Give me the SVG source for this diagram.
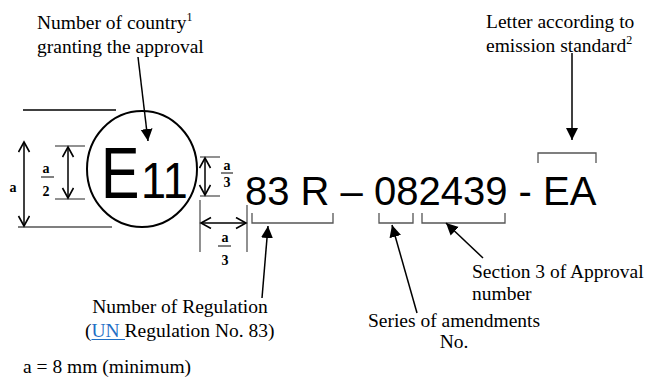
<svg xmlns="http://www.w3.org/2000/svg" width="646" height="379" viewBox="0 0 646 379">
<defs>
<style>
.t{font-family:"Liberation Serif","Times New Roman",serif;font-size:19.5px;fill:#000}
.lbl{font-family:"Liberation Serif","Times New Roman",serif;font-size:14px;font-weight:bold;fill:#000}
.big{font-family:"Liberation Sans",Arial,sans-serif;fill:#000}
.ext{stroke:#555;stroke-width:1.3;fill:none}
.dim{stroke:#000;stroke-width:1.5;fill:none;marker-start:url(#open);marker-end:url(#open)}
.ptr{stroke:#000;stroke-width:1.5;fill:none;marker-end:url(#solid)}
.frac{stroke:#000;stroke-width:1}
</style>
<marker id="open" markerUnits="userSpaceOnUse" markerWidth="14" markerHeight="14" refX="11" refY="6" orient="auto-start-reverse">
<path d="M1,0.5 L11,6 L1,11.5" fill="none" stroke="#000" stroke-width="1.6"/>
</marker>
<marker id="solid" markerUnits="userSpaceOnUse" markerWidth="14" markerHeight="14" refX="12" refY="6" orient="auto">
<path d="M0,0 L12,6 L0,12 z" fill="#000"/>
</marker>
</defs>

<g id="mark">
<ellipse cx="142" cy="169" rx="55" ry="58" fill="none" stroke="#000" stroke-width="2"/>
<text class="big" font-size="72" transform="translate(101,198) scale(0.8,1)">E</text>
<text class="big" font-size="50" transform="translate(141,198) scale(0.9,1)">11</text>
<text class="big" x="245" y="205" font-size="40">83 R – 082439 - EA</text>
</g>

<g id="dimensions">
<line x1="23" y1="110" x2="116" y2="110" stroke="#000" stroke-width="1.3"/>
<line class="ext" x1="18" y1="227" x2="112" y2="227"/>
<line class="dim" x1="24" y1="142" x2="24" y2="226"/>
<text class="lbl" x="13" y="192" text-anchor="middle">a</text>
<line class="ext" x1="55" y1="146" x2="85" y2="146"/>
<line class="ext" x1="55" y1="199" x2="85" y2="199"/>
<line class="dim" x1="68" y1="147" x2="68" y2="198"/>
<text class="lbl" x="46" y="173" text-anchor="middle">a</text>
<line class="frac" x1="41" y1="177" x2="54" y2="177"/>
<text class="lbl" x="46" y="196" text-anchor="middle">2</text>
<line class="ext" x1="200" y1="157" x2="220" y2="157"/>
<line class="ext" x1="200" y1="196" x2="220" y2="196"/>
<line class="dim" x1="205" y1="158" x2="205" y2="195"/>
<text class="lbl" x="227" y="170" text-anchor="middle">a</text>
<line class="frac" x1="221" y1="173" x2="233" y2="173"/>
<text class="lbl" x="227" y="187" text-anchor="middle">3</text>
<line class="ext" x1="200" y1="200" x2="200" y2="252"/>
<line class="ext" x1="247" y1="205" x2="247" y2="252"/>
<line class="dim" x1="201" y1="223" x2="246" y2="223"/>
<text class="lbl" x="225" y="242" text-anchor="middle">a</text>
<line class="frac" x1="218" y1="246" x2="231" y2="246"/>
<text class="lbl" x="225" y="265" text-anchor="middle">3</text>
</g>

<g id="brackets">
<path class="ext" d="M252,213 V223 H333 V213"/>
<path class="ext" d="M379,213 V223 H413 V213"/>
<path class="ext" d="M422,213 V223 H505 V213"/>
<path class="ext" d="M538,163 V153 H596 V163"/>
</g>

<g id="connectors">
<line class="ptr" x1="138" y1="57" x2="148" y2="141"/>
<line class="ptr" x1="572" y1="53" x2="572" y2="140"/>
<line class="ptr" x1="262" y1="298" x2="268" y2="226"/>
<line class="ptr" x1="417" y1="313" x2="392" y2="225"/>
<line class="ptr" x1="483" y1="258" x2="446" y2="223"/>
</g>

<g id="label-country">
<text class="t" x="37" y="29">Number of country<tspan font-size="12" dy="-8">1</tspan></text>
<text class="t" x="37" y="53">granting the approval</text>
</g>
<g id="label-letter">
<text class="t" x="486" y="28">Letter according to</text>
<text class="t" x="486" y="52">emission standard<tspan font-size="12" dy="-8">2</tspan></text>
</g>
<g id="label-section">
<text class="t" x="472" y="278">Section 3 of Approval</text>
<text class="t" x="472" y="300">number</text>
</g>
<g id="label-series">
<text class="t" x="454" y="327" text-anchor="middle">Series of amendments</text>
<text class="t" x="454" y="348" text-anchor="middle">No.</text>
</g>
<g id="label-regulation">
<text class="t" x="180" y="313" text-anchor="middle">Number of Regulation</text>
<text class="t" x="85" y="337">(<tspan fill="#1f6fc5">UN </tspan>Regulation No. 83)</text>
<line x1="91.5" y1="339.5" x2="125" y2="339.5" stroke="#1f6fc5" stroke-width="1"/>
</g>
<g id="note">
<text class="t" x="23" y="373">a = 8 mm (minimum)</text>
</g>
</svg>
